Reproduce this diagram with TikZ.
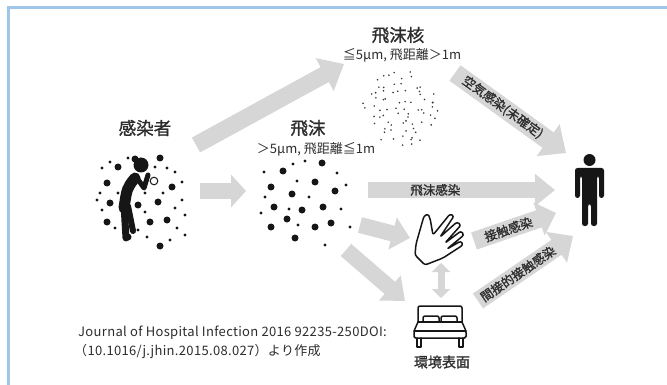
\documentclass[tikz,border=0pt]{standalone}
\usepackage{fontspec}
\setmainfont{Noto Sans CJK JP}[AutoFakeBold=1.2]
\usetikzlibrary{arrows.meta}

\definecolor{frameblue}{RGB}{159,197,232}
\definecolor{arrowgray}{RGB}{214,214,214}
\definecolor{ink}{RGB}{45,45,45}
\definecolor{dotink}{RGB}{22,22,22}

\tikzset{
  flow/.style={draw=arrowgray, line cap=butt},
  title/.style={text=ink, inner sep=0pt, font=\fontsize{17.5}{20}\selectfont\bfseries},
  subtitle/.style={text=ink, inner sep=0pt, font=\fontsize{13}{15}\selectfont},
  onarrow/.style={text=ink, inner sep=0pt, font=\fontsize{12.5}{15}\selectfont\bfseries},
  note/.style={text=ink, inner sep=0pt, anchor=west, font=\fontsize{13}{15}\selectfont\addfontfeature{LetterSpace=2.5}},
  iconline/.style={draw=dotink, line width=1.5pt, line join=round, line cap=round},
}

\newcommand{\bigdot}[1]{\fill[dotink] (#1) circle (3.5);}
\newcommand{\smalldot}[1]{\fill[dotink] (#1) circle (1.6);}

\begin{document}
\begin{tikzpicture}[x=1pt, y=-1pt]
\useasboundingbox (0,0) rectangle (667,385);
\fill[white] (0,0) rectangle (667,385);
\draw[frameblue, line width=3pt] (8.5,385) -- (8.5,7.5) -- (667,7.5);

% ---------- arrow end points ----------
\coordinate (srcA) at (200,191);  \coordinate (dropA) at (246,191);
\coordinate (srcB) at (196,145);  \coordinate (nucB)  at (344,64);
\coordinate (nucS) at (455,73);   \coordinate (manA)  at (566,153);
\coordinate (drpS) at (368,190);  \coordinate (manB)  at (555,190);
\coordinate (drpH) at (360,225);  \coordinate (handT) at (410,238);
\coordinate (drpE) at (346,250);  \coordinate (bedT)  at (405,301);
\coordinate (handB) at (441,263); \coordinate (bedU)  at (441,298);
\coordinate (handS) at (474,241); \coordinate (manC)  at (556,213);
\coordinate (bedS) at (478,301);  \coordinate (manD)  at (573,236);

% ---------- block arrows ----------
\draw[flow, line width=16pt, -{Triangle[length=15pt,width=32pt]}] (srcA) -- (dropA);
\draw[flow, line width=17pt, -{Triangle[length=22pt,width=36pt]}] (srcB) -- (nucB);
\draw[flow, line width=19pt, -{Triangle[length=22pt,width=38pt]}] (nucS) -- (manA)
  node[onarrow, sloped, pos=0.43] (airlbl) {空気感染(未確定)};
\draw[flow, line width=16pt, -{Triangle[length=20pt,width=31pt]}] (drpS) -- (manB)
  node[onarrow, pos=0.36] (droplbl) {飛沫感染};
\draw[flow, line width=16pt, -{Triangle[length=18pt,width=32pt]}] (drpH) -- (handT);
\draw[flow, line width=16pt, -{Triangle[length=20pt,width=32pt]}] (drpE) -- (bedT);
\draw[flow, line width=7pt, {Triangle[length=9pt,width=18pt]}-{Triangle[length=9pt,width=18pt]}] (handB) -- (bedU);
\draw[flow, line width=18pt, -{Triangle[length=18pt,width=34pt]}] (handS) -- (manC)
  node[onarrow, sloped, pos=0.42] (contlbl) {接触感染};
\draw[flow, line width=18pt, -{Triangle[length=20pt,width=36pt]}] (bedS) -- (manD)
  node[onarrow, sloped, pos=0.42] (indlbl) {間接的接触感染};

% ---------- labels ----------
\node[title] (infected) at (145,128) {感染者};
\node[title] (drop) at (308,128) {飛沫};
\node[subtitle] (dropsub) at (316,149) {＞5μm, 飛距離≦1m};
\node[title] (nuc) at (398,35) {飛沫核};
\node[subtitle] (nucsub) at (402,55) {≦5μm, 飛距離＞1m};
\node[title, font=\fontsize{14}{16}\selectfont\bfseries] (envlbl) at (442,362) {環境表面};
\node[note] (ref1) at (78,333) {Journal of Hospital Infection 2016 92235-250DOI:};
\node[note] (ref2) at (74,352) {（10.1016/j.jhin.2015.08.027）より作成};

% ---------- droplet nuclei: fine dots on a jittered grid ----------
\pgfmathsetseed{4217}
\foreach \i in {-5,...,5}{
  \foreach \j in {-5,...,5}{
    \pgfmathsetmacro\px{\i*8.2 + mod(abs(\j),2)*4.1 + 5*rand}
    \pgfmathsetmacro\py{\j*7.6 + 3*rand}
    \pgfmathsetmacro\dd{sqrt(\px*\px + \py*\py)}
    \ifdim\dd pt<38pt
      \fill[dotink!85] (400+\px, 108+\py) circle (0.9);
    \fi
  }
}

% ---------- droplets: coarse dots ----------
\foreach \p in {{322,163},{283,171},{315,182},{271,187},{292,194},{335,191},
                {274,207},{302,210},{323,207},{287,219},{331,223},{271,227},
                {315,227},{295,238}}{\expandafter\bigdot\expandafter{\p}}
\foreach \p in {{305,161},{293,164},{264,172},{337,173},{297,181},{346,185},
                {309,197},{265,197},{289,209},{341,209},{261,213},{298,225},
                {350,227},{325,245}}{\expandafter\smalldot\expandafter{\p}}

% ---------- infected person: dot cloud ----------
\foreach \p in {{160,158},{118,167},{107,183},{172,187},{110,203},{138,205},
                {158,202},{107,222},{150,222},{167,220},{128,237},{160,246}}
  {\expandafter\bigdot\expandafter{\p}}
\foreach \p in {{102,168},{110,162},{128,158},{155,167},{167,168},{175,172},
                {182,182},{100,193},{118,193},{145,193},{163,193},{182,200},
                {102,210},{123,212},{145,212},{175,208},{185,215},{115,228},
                {138,230},{177,228},{147,237},{185,235},{97,200},{170,240}}
  {\expandafter\smalldot\expandafter{\p}}

% ---------- infected person: coughing figure ----------
\fill[dotink] (141,165) circle (7.5);
\fill[dotink] (135,159) circle (3.5);
\draw[dotink, line width=11pt, line cap=round] (135,178) .. controls (127,188) .. (124,208);
\draw[dotink, line width=7pt, line cap=round] (124,205) -- (126,238);
\draw[dotink, line width=6pt, line cap=round] (128,206) -- (133,231);
\draw[dotink, line width=5pt, line cap=round, line join=round] (137,178) -- (144,188) -- (148,175);
\draw[dotink, fill=white, line width=1pt] (154,181) circle (3.8);

% ---------- hand (outline) ----------
\draw[iconline, rounded corners=2.2pt] (425,265) -- (415,255) -- (416,244) -- (424,216)
  -- (428,214) -- (430,218) -- (433,235)
  -- (450,214) -- (454,216) -- (440,237)
  -- (457,222) -- (461,225) -- (445,243)
  -- (461,231) -- (464,235) -- (447,249)
  -- (461,241) -- (463,245) -- (443,258) -- cycle;

% ---------- bed ----------
\draw[iconline, rounded corners=2pt] (418,322) -- (418,306) -- (462,306) -- (462,322);
\draw[iconline, rounded corners=2pt] (423,322) -- (423,316) -- (439,316) -- (439,322);
\draw[iconline, rounded corners=2pt] (441,322) -- (441,316) -- (457,316) -- (457,322);
\draw[iconline] (418,322) -- (462,322);
\draw[iconline, rounded corners=1.5pt] (418,322) -- (414,331) -- (414,338) -- (466,338) -- (466,331) -- (462,322);
\draw[iconline] (414,331) -- (466,331);
\draw[iconline] (417,338) -- (417,347) -- (421,347) -- (421,338);
\draw[iconline] (459,338) -- (459,347) -- (463,347) -- (463,338);

% ---------- standing person ----------
\fill[dotink] (589.5,160) circle (6);
\fill[dotink, rounded corners=2.5pt] (575,198) -- (575,168) -- (604,168) -- (604,198)
  -- (599,198) -- (599,176) -- (597,176) -- (597,226) -- (591,226) -- (591,204)
  -- (588,204) -- (588,226) -- (582,226) -- (582,176) -- (580,176) -- (580,198) -- cycle;
\end{tikzpicture}
\end{document}
